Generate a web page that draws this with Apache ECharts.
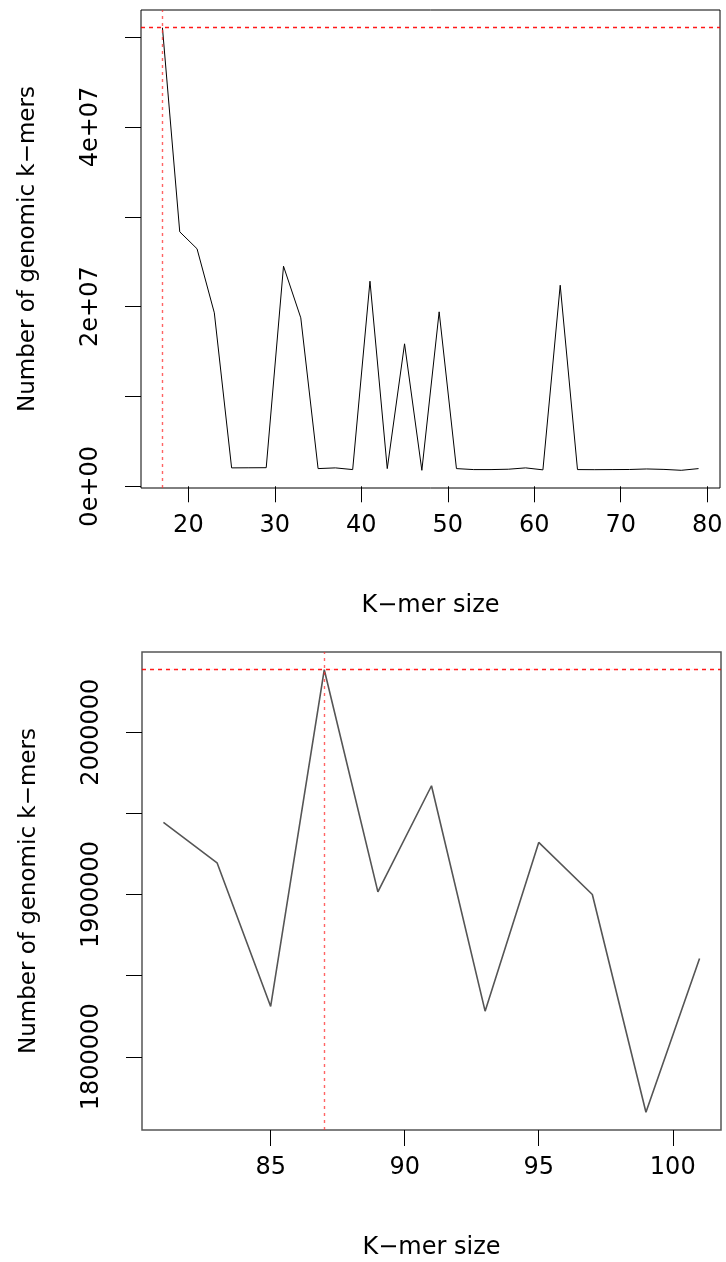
<!DOCTYPE html>
<html>
<head>
<meta charset="utf-8">
<script src="https://cdn.jsdelivr.net/npm/echarts@6/dist/echarts.min.js"></script>
<style>
  html, body { margin: 0; padding: 0; background: #fff; }
  #chart { width: 726px; height: 1262px; }
</style>
</head>
<body>
<div id="chart"></div>
<script>
// ---- Data (top panel) ----
const topK = [17,19,21,23,25,27,29,31,33,35,37,39,41,43,45,47,49,51,53,55,57,59,61,63,65,67,69,71,73,75,77,79];
const topCounts = [51050000,28330000,26440000,19310000,2050000,2060000,2070000,24500000,18750000,1970000,2050000,1860000,22830000,1970000,15860000,1780000,19420000,1970000,1860000,1860000,1900000,2050000,1830000,22380000,1860000,1850000,1860000,1870000,1930000,1880000,1780000,1970000];
const topXTicks = [20,30,40,50,60,70,80];
const topYTicks = [0,10000000,20000000,30000000,40000000,50000000];
const topYLabelValues = [0,20000000,40000000];
const topYLabelText = ['0e+00','2e+07','4e+07'];
const topBestK = 17;
const topBestCount = 51050000;

// ---- Data (bottom panel) ----
const botK = [81,83,85,87,89,91,93,95,97,99,101];
const botCounts = [1944400,1919500,1831000,2038500,1901600,1967000,1828100,1932100,1900000,1765800,1860500];
const botXTicks = [85,90,95,100];
const botYTicks = [1800000,1850000,1900000,1950000,2000000];
const botYLabelValues = [1800000,1900000,2000000];
const botBestK = 87;
const botBestCount = 2038500;

const xTitle = 'K\u2212mer size';
const yTitle = 'Number of genomic k\u2212mers';

const FONT = 'DejaVu Sans';
const FS = 24;

function pairs(xs, ys) { return xs.map((x, i) => [x, ys[i]]); }

const redV = { color: '#ff3030', type: [3, 4], width: 1.4, opacity: 0.75 };
const redH = { color: '#ff0000', type: [4, 4], width: 1.3, opacity: 0.9 };

function xAxisCfg(gridIndex, min, max, ticks) {
  return {
    type: 'value', gridIndex, min, max,
    axisLine: { show: false },
    axisTick: { show: true, inside: false, length: 16, customValues: ticks, lineStyle: { color: '#000', width: 1 } },
    axisLabel: { show: true, customValues: ticks, margin: 26, fontFamily: FONT, fontSize: FS, color: '#000' },
    splitLine: { show: false },
    name: xTitle, nameLocation: 'middle', nameGap: 106,
    nameTextStyle: { fontFamily: FONT, fontSize: FS, color: '#000' }
  };
}
function yAxisCfg(gridIndex, min, max, ticks, labelValues, fmt) {
  return {
    type: 'value', gridIndex, min, max,
    axisLine: { show: false },
    axisTick: { show: true, inside: false, length: 16, customValues: ticks, lineStyle: { color: '#000', width: 1 } },
    axisLabel: { show: true, customValues: labelValues, rotate: 90, margin: 38, fontFamily: FONT, fontSize: FS, color: '#000', formatter: fmt },
    splitLine: { show: false },
    name: yTitle, nameLocation: 'middle', nameRotate: 90, nameGap: 101,
    nameTextStyle: { fontFamily: FONT, fontSize: 23, color: '#000' }
  };
}

function redMarks(k, c) {
  return {
    silent: true, symbol: ['none', 'none'], label: { show: false },
    emphasis: { disabled: true },
    data: [
      { xAxis: k, lineStyle: redV },
      { yAxis: c, lineStyle: redH }
    ]
  };
}

const option = {
  animation: false,
  backgroundColor: '#fff',
  grid: [
    { left: 141, top: 10, width: 579, height: 478, show: true, borderColor: '#000', borderWidth: 1, backgroundColor: 'transparent' },
    { left: 142, top: 652, width: 579, height: 478, show: true, borderColor: '#555', borderWidth: 1.5, backgroundColor: 'transparent' }
  ],
  xAxis: [
    xAxisCfg(0, 14.52, 81.48, topXTicks),
    xAxisCfg(1, 80.2, 101.8, botXTicks)
  ],
  yAxis: [
    yAxisCfg(0, -190000, 53020000, topYTicks, topYLabelValues, v => topYLabelText[topYLabelValues.indexOf(v)]),
    yAxisCfg(1, 1754892, 2049408, botYTicks, botYLabelValues, v => String(v))
  ],
  series: [
    {
      type: 'line', xAxisIndex: 0, yAxisIndex: 0,
      data: pairs(topK, topCounts),
      showSymbol: false, symbol: 'none',
      lineStyle: { color: '#000', width: 1 },
      markLine: redMarks(topBestK, topBestCount)
    },
    {
      type: 'line', xAxisIndex: 1, yAxisIndex: 1,
      data: pairs(botK, botCounts),
      showSymbol: false, symbol: 'none',
      lineStyle: { color: '#555', width: 1.6 },
      markLine: redMarks(botBestK, botBestCount)
    }
  ]
};

const chart = echarts.init(document.getElementById('chart'), null, { renderer: 'canvas' });
chart.setOption(option);
</script>
</body>
</html>
